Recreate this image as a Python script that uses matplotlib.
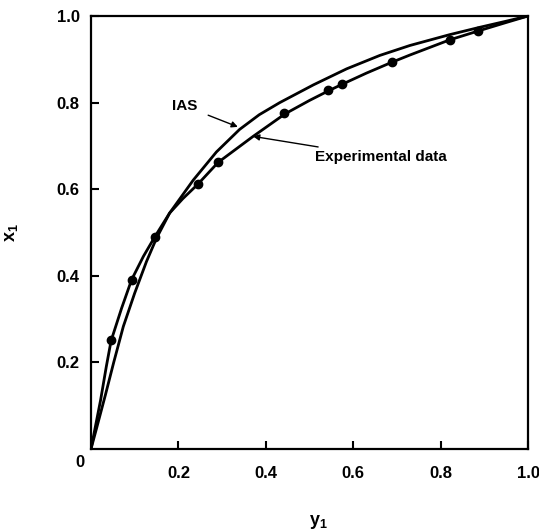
import matplotlib
matplotlib.use("Agg")
import matplotlib.pyplot as plt

plt.rcParams['font.family'] = ['Liberation Sans', 'DejaVu Sans']
plt.rcParams['font.weight'] = 'bold'
plt.rcParams['mathtext.fontset'] = 'custom'
plt.rcParams['mathtext.rm'] = 'Liberation Sans:bold'
plt.rcParams['mathtext.it'] = 'Liberation Sans:bold'
plt.rcParams['mathtext.bf'] = 'Liberation Sans:bold'

# experimental points (y1, x1)
exp_y1 = [0.046, 0.093, 0.146, 0.244, 0.291, 0.442, 0.543, 0.574, 0.688, 0.821, 0.886]
exp_x1 = [0.251, 0.391, 0.490, 0.611, 0.663, 0.776, 0.828, 0.842, 0.893, 0.945, 0.965]

# curve drawn through the experimental data
fit_y1 = [0.0, 0.007, 0.022, 0.035, 0.046, 0.070, 0.093, 0.120, 0.146, 0.180, 0.210,
          0.244, 0.291, 0.371, 0.444, 0.500, 0.543, 0.574, 0.630, 0.688, 0.730,
          0.821, 0.888, 0.950, 1.0]
fit_x1 = [0.0, 0.036, 0.113, 0.190, 0.250, 0.325, 0.391, 0.445, 0.490, 0.545, 0.578,
          0.611, 0.662, 0.722, 0.774, 0.805, 0.827, 0.842, 0.868, 0.893, 0.910,
          0.945, 0.966, 0.985, 1.0]

# IAS prediction
ias_y1 = [0.0, 0.012, 0.033, 0.052, 0.074, 0.100, 0.127, 0.150, 0.180, 0.234, 0.287,
          0.340, 0.385, 0.432, 0.509, 0.585, 0.661, 0.730, 0.821, 0.890, 0.950, 1.0]
ias_x1 = [0.0, 0.045, 0.125, 0.200, 0.283, 0.360, 0.433, 0.487, 0.545, 0.621, 0.686,
          0.738, 0.772, 0.800, 0.841, 0.878, 0.909, 0.932, 0.957, 0.974, 0.988, 1.0]

ticks = [0.2, 0.4, 0.6, 0.8, 1.0]
tick_labels = ['0.2', '0.4', '0.6', '0.8', '1.0']

fig = plt.figure(figsize=(5.39, 5.30), dpi=100)
ax = fig.add_axes([0.1688, 0.1528, 0.8108, 0.817])

ax.plot(ias_y1, ias_x1, color='black', lw=2.0, solid_joinstyle='round')
ax.plot(fit_y1, fit_x1, color='black', lw=2.0, solid_joinstyle='round')
ax.scatter(exp_y1, exp_x1, s=36, color='black', zorder=3)

ax.set_xlim(0, 1.0)
ax.set_ylim(0, 1.0)
ax.set_xticks(ticks)
ax.set_yticks(ticks)
ax.set_xticklabels(tick_labels, fontsize=12, fontweight='bold')
ax.set_yticklabels(tick_labels, fontsize=12, fontweight='bold')
ax.tick_params(direction='in', length=6, width=1.5, pad=8)
ax.tick_params(axis='x', pad=12)
for s in ax.spines.values():
    s.set_linewidth(1.6)

ax.text(-0.025, -0.03, '0', transform=ax.transAxes, ha='center', va='center',
        fontsize=12, fontweight='bold')

ax.set_xlabel(r'$\mathrm{y}_1$', fontsize=13)
ax.set_ylabel(r'$\mathrm{x}_1$', fontsize=13)
ax.xaxis.set_label_coords(0.52, -0.148)
ax.yaxis.set_label_coords(-0.162, 0.5)

ax.annotate('IAS', xy=(0.336, 0.744), xytext=(0.215, 0.792),
            ha='center', va='center', fontsize=11, fontweight='bold',
            arrowprops=dict(arrowstyle='-|>', color='black', lw=1.0,
                            mutation_scale=9, shrinkA=6, shrinkB=0))
ax.annotate('Experimental data', xy=(0.371, 0.722), xytext=(0.513, 0.674),
            ha='left', va='center', fontsize=11, fontweight='bold',
            arrowprops=dict(arrowstyle='-|>', color='black', lw=1.0,
                            mutation_scale=9, shrinkA=2, shrinkB=0))

fig.savefig('out.png', dpi=100)
